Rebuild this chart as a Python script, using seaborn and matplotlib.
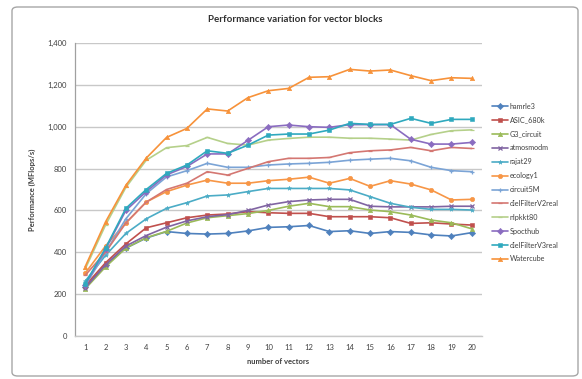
import matplotlib
matplotlib.use("Agg")
import matplotlib.pyplot as plt
import matplotlib.patches as mpatches
import numpy as np
import pandas as pd
import seaborn as sns

# number of vectors per block
vectors = list(range(1, 21))

# performance in MFlops/s for each matrix
hamrle3 = [232, 340, 420, 468, 499, 490, 487, 490, 502, 519, 522, 528, 499, 503, 490, 499, 495, 483, 478, 494]
ASIC_680k = [240, 350, 440, 517, 541, 565, 578, 583, 594, 589, 586, 586, 570, 570, 570, 565, 538, 541, 535, 530]
G3_circuit = [225, 330, 420, 470, 500, 540, 565, 575, 585, 600, 620, 634, 618, 618, 602, 594, 578, 554, 541, 512]
atmosmodm = [230, 340, 430, 480, 520, 550, 570, 580, 600, 626, 642, 650, 653, 653, 620, 617, 617, 617, 620, 620]
rajat29 = [262, 385, 490, 560, 610, 637, 669, 674, 690, 705, 705, 705, 705, 698, 666, 634, 615, 605, 605, 602]
ecology1 = [300, 430, 540, 640, 690, 721, 745, 730, 730, 742, 749, 759, 730, 753, 715, 742, 726, 698, 650, 653]
circuit5M = [240, 400, 560, 680, 760, 790, 825, 806, 806, 817, 822, 825, 830, 840, 845, 849, 837, 806, 790, 785]
dielFilterV2real = [290, 400, 540, 640, 700, 730, 785, 769, 801, 833, 849, 849, 853, 876, 885, 889, 901, 885, 901, 896]
nlpkkt80 = [320, 530, 710, 840, 900, 910, 949, 920, 912, 936, 944, 950, 950, 945, 945, 941, 936, 963, 981, 985]
Spocthub = [245, 415, 600, 690, 770, 810, 870, 870, 935, 1000, 1008, 1000, 997, 1010, 1010, 1010, 940, 917, 917, 925]
dielFilterV3real = [250, 420, 610, 700, 777, 817, 885, 873, 912, 960, 965, 965, 984, 1016, 1011, 1011, 1040, 1016, 1035, 1035]
Watercube = [331, 545, 720, 850, 949, 992, 1085, 1075, 1139, 1172, 1183, 1236, 1239, 1274, 1266, 1271, 1244, 1220, 1234, 1231]

series_names = ["hamrle3", "ASIC_680k", "G3_circuit", "atmosmodm", "rajat29", "ecology1",
                "circuit5M", "dielFilterV2real", "nlpkkt80", "Spocthub", "dielFilterV3real", "Watercube"]
series_values = [hamrle3, ASIC_680k, G3_circuit, atmosmodm, rajat29, ecology1,
                 circuit5M, dielFilterV2real, nlpkkt80, Spocthub, dielFilterV3real, Watercube]

y_ticks = [0, 200, 400, 600, 800, 1000, 1200, 1400]
y_tick_labels = ["0", "200", "400", "600", "800", "1,000", "1,200", "1,400"]

colors = ["#4F81BD", "#C0504D", "#9BBB59", "#8064A2", "#4BACC6", "#F79646",
          "#7BA4D6", "#D47772", "#B5D08A", "#8A6CC0", "#2FA9BE", "#F7923A"]
markers = ["D", "s", "^", "x", "*", "o", "+", "_", "_", "D", "s", "^"]

df = pd.DataFrame({
    "vectors": np.tile(vectors, len(series_names)),
    "perf": np.concatenate([np.asarray(v, dtype=float) for v in series_values]),
    "matrix": np.repeat(series_names, len(vectors)),
})

sns.set_theme(style="white")
plt.rcParams["font.family"] = ["Lato", "DejaVu Sans"]

fig = plt.figure(figsize=(5.82, 3.79), dpi=100)
ax = fig.add_axes([75 / 582, 1 - 336 / 379, (482 - 75) / 582, (336 - 43) / 379])

for name, col, mk in zip(series_names, colors, markers):
    sub = df[df["matrix"] == name]
    sns.lineplot(data=sub, x="vectors", y="perf", ax=ax, color=col, linewidth=1.2,
                 marker=mk, markersize=3.2, markeredgewidth=0.9 if mk in "x+_" else 0.4,
                 markeredgecolor=col, label=name, legend=False)

ax.set_xlim(0.5, 20.5)
ax.set_ylim(0, 1400)
ax.set_xticks(vectors)
ax.set_xticklabels([str(v) for v in vectors], fontsize=5.5, color="#404040")
ax.set_yticks(y_ticks)
ax.set_yticklabels(y_tick_labels, fontsize=5.5, color="#404040")
ax.tick_params(axis="both", length=0, pad=6)
ax.yaxis.grid(True, color="#C8C8C8", linewidth=1.0)
ax.set_axisbelow(True)
for side in ["top", "right"]:
    ax.spines[side].set_visible(False)
ax.spines["left"].set_color("#A0A0A0")
ax.spines["bottom"].set_color("#C8C8C8")
ax.spines["left"].set_linewidth(0.9)
ax.spines["bottom"].set_linewidth(1.0)

ax.set_xlabel("number of vectors", fontsize=5.5, fontweight="bold", color="#404040", labelpad=5)
ax.set_ylabel("Performance (MFlops/s)", fontsize=5.5, fontweight="bold", color="#404040", labelpad=8)

fig.text(295 / 582, 1 - 20 / 379, "Performance variation for vector blocks",
         ha="center", va="center", fontsize=7, fontweight="bold", color="#303030")

handles, labels = ax.get_legend_handles_labels()
leg = fig.legend(handles, labels, loc="upper left", bbox_to_anchor=(489 / 582, 1 - 100 / 379),
                 frameon=False, fontsize=5.2, handlelength=2.2, handletextpad=0.3,
                 labelspacing=0.95, borderaxespad=0)
for t in leg.get_texts():
    t.set_color("#404040")

# chart frame
fig.patches.append(mpatches.FancyBboxPatch((12 / 582, 1 - 376 / 379), (578 - 12) / 582, (376 - 7) / 379,
                                           boxstyle="round,pad=0,rounding_size=0.01",
                                           transform=fig.transFigure, fill=False,
                                           edgecolor="#A6A6A6", linewidth=1.0))

fig.savefig("out.png", dpi=100)
